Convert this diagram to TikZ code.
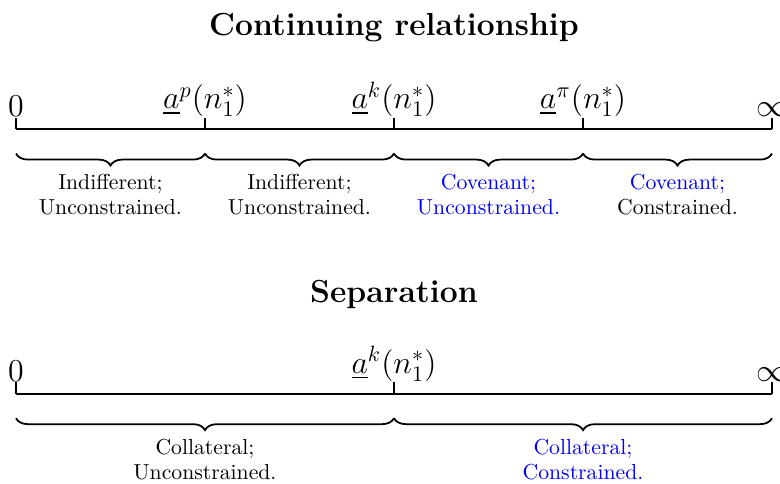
\documentclass[tikz,border=0pt]{standalone}
\usepackage{amsmath,amssymb}
\usepackage{xcolor}
\usetikzlibrary{decorations.pathreplacing,positioning}

\tikzset{
  axisline/.style={thick},
  bracedeco/.style={thick, decorate, decoration={brace, mirror, amplitude=0.19cm}},
  ticklabel/.style={anchor=south, inner sep=0pt, font=\fontsize{13.8}{16}\selectfont},
  endlabel/.style={anchor=south, inner sep=0pt, font=\fontsize{13.8}{16}\selectfont},
  regionlabel/.style={anchor=base, align=center, inner sep=0pt, font=\fontsize{9.8}{11.3}\selectfont},
  paneltitle/.style={anchor=base, inner sep=0pt, font=\fontsize{14.4}{17}\selectfont\bfseries},
}

\begin{document}
\begin{tikzpicture}
  \useasboundingbox (-0.254,-5.619) rectangle (12.127,2.048);
  % Continuing relationship: axis and ticks
  \node[paneltitle] (titlecont) at (6,1.49) {Continuing relationship};
  \draw[axisline] (0,0) -- (12,0);
  \draw[axisline] (0,0) -- (0,0.18) node[endlabel] (zerocont) {$0$};
  \draw[axisline] (3,0) -- (3,0.18) node[ticklabel] (apcont) {$\underline{a}^{p}(n_1^*)$};
  \draw[axisline] (6,0) -- (6,0.18) node[ticklabel] (akcont) {$\underline{a}^{k}(n_1^*)$};
  \draw[axisline] (9,0) -- (9,0.18) node[ticklabel] (api) {$\underline{a}^{\pi}(n_1^*)$};
  \draw[axisline] (12,0) -- (12,0.18) node[endlabel] (infcont) {$\infty$};
  % Continuing relationship: regions
  \draw[bracedeco] (0,-0.39) -- (3,-0.39);
  \draw[bracedeco] (3,-0.39) -- (6,-0.39);
  \draw[bracedeco] (6,-0.39) -- (9,-0.39);
  \draw[bracedeco] (9,-0.39) -- (12,-0.39);
  \node[regionlabel] (regionone) at (1.5,-1.36) {Indifferent;\\Unconstrained.};
  \node[regionlabel] (regiontwo) at (4.5,-1.36) {Indifferent;\\Unconstrained.};
  \node[regionlabel] (regionthree) at (7.5,-1.36) {\textcolor{blue}{Covenant;}\\\textcolor{blue}{Unconstrained.}};
  \node[regionlabel] (regionfour) at (10.5,-1.36) {\textcolor{blue}{Covenant;}\\Constrained.};

  % Separation: axis and ticks
  \node[paneltitle] (titlesep) at (6,-2.746) {Separation};
  \draw[axisline] (0,-4.2) -- (12,-4.2);
  \draw[axisline] (0,-4.2) -- (0,-4.02) node[endlabel] (zerosep) {$0$};
  \draw[axisline] (6,-4.2) -- (6,-4.02) node[ticklabel] (aksep) {$\underline{a}^{k}(n_1^*)$};
  \draw[axisline] (12,-4.2) -- (12,-4.02) node[endlabel] (infsep) {$\infty$};
  % Separation: regions
  \draw[bracedeco] (0,-4.59) -- (6,-4.59);
  \draw[bracedeco] (6,-4.59) -- (12,-4.59);
  \node[regionlabel] (regionleft) at (3,-5.56) {Collateral;\\Unconstrained.};
  \node[regionlabel] (regionright) at (9,-5.56) {\textcolor{blue}{Collateral;}\\\textcolor{blue}{Constrained.}};
\end{tikzpicture}
\end{document}
